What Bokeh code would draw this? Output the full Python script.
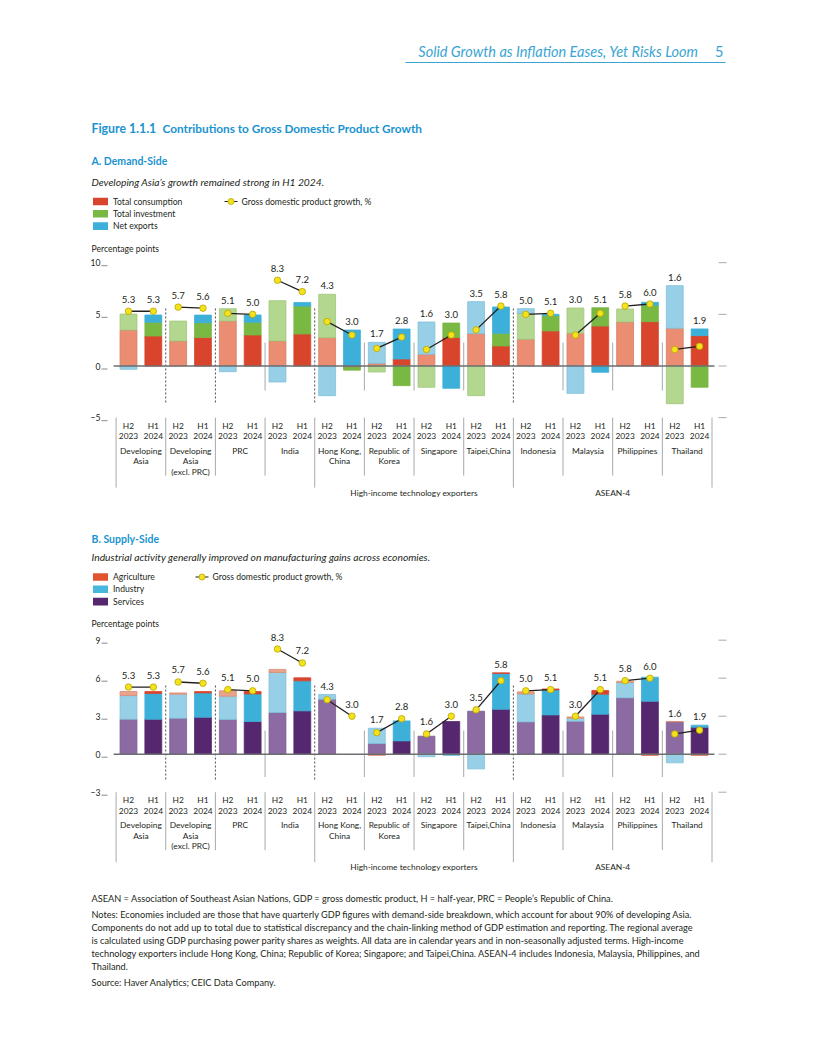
from bokeh.plotting import figure
from bokeh.models import Range1d, ColumnDataSource
from bokeh.layouts import column
from bokeh.embed import file_html
from bokeh.resources import INLINE
from bokeh.core.properties import value

# ---------------- data ----------------
countries = ["Developing\nAsia", "Developing\nAsia\n(excl. PRC)", "PRC", "India",
             "Hong Kong,\nChina", "Republic of\nKorea", "Singapore", "Taipei,China",
             "Indonesia", "Malaysia", "Philippines", "Thailand"]
periods = ["H2\n2023", "H1\n2024"]
gdp_h2 = [5.3, 5.7, 5.1, 8.3, 4.3, 1.7, 1.6, 3.5, 5.0, 3.0, 5.8, 1.6]
gdp_h1 = [5.3, 5.6, 5.0, 7.2, 3.0, 2.8, 3.0, 5.8, 5.1, 5.1, 6.0, 1.9]

# demand side, bar order: country k H2 2023, H1 2024
consumption = [3.48, 2.90, 2.42, 2.77, 4.35, 3.00, 2.42, 3.10, 2.74, -0.12, 0.26, 0.68,
               1.13, 2.77, 3.13, 1.94, 2.58, 3.39, 3.16, 3.87, 4.26, 4.29, 3.65, 2.94]
investment = [1.55, 1.33, 1.93, 1.42, 1.20, 1.23, 3.90, 2.70, 4.20, -0.28, -0.58, -1.90,
              -2.06, 1.39, -2.87, 1.22, 2.52, 1.48, 2.45, 1.77, 1.26, 1.58, -3.65, -2.06]
net_exports = [-0.32, 0.71, 0.00, 0.74, -0.55, 0.71, -1.55, 0.35, -2.87, 3.48, 2.03, 2.90,
               3.13, -2.16, 3.10, 2.55, 0.45, 0.13, -2.65, -0.61, 0.00, 0.29, 4.13, 0.65]

# supply side
services = [2.76, 2.76, 2.84, 2.92, 2.74, 2.58, 3.29, 3.42, 4.34, 0.00, 0.84, 1.05,
            1.42, 2.58, 3.39, 3.55, 2.55, 3.10, 2.60, 3.16, 4.45, 4.18, 2.55, 2.13]
industry = [1.87, 2.03, 1.90, 1.92, 1.84, 2.18, 3.16, 2.37, 0.37, 0.00, 1.21, 1.58,
            -0.20, -0.08, -1.16, 2.82, 2.21, 1.97, 0.24, 1.58, 1.21, 1.90, -0.68, 0.16]
agriculture = [0.32, 0.16, 0.10, 0.10, 0.42, 0.18, 0.24, 0.24, 0.00, 0.00, -0.10, 0.00,
               0.00, 0.00, 0.00, 0.05, 0.16, 0.08, 0.10, 0.29, 0.10, -0.08, 0.03, -0.08]

y_ticks_a = [-5, 0, 5, 10]
y_ticks_b = [-3, 0, 3, 6, 9]
groups = ["High-income technology exporters", "ASEAN-4"]
group_first = [4, 8]     # first country index of each group
group_last = [7, 11]
dashed_after = [0, 1, 3, 7]      # separators after these countries (dashed)
solid_after = [2, 4, 5, 6, 8, 9, 10]
long_bounds = [-1, 3, 7, 11]

# ---------------- style ----------------
FONT = "Lato"
INK = "#231f20"
TITLE_BLUE = "#1a93d1"
HEAD_BLUE = "#3aa5d2"
PAGE_W = 800
X0_PAGE = 128.0   # page x of first bar centre
STEP = 24.83      # px per bar

demand_cols = [("#d8452c", "#ea8d72", "#d97c62"),
               ("#78b843", "#b4d78f", "#9fc77a"),
               ("#3db0d9", "#97d0e6", "#80c0da")]
supply_cols = [("#55276e", "#8c6aa2", "#7b5a92"),
               ("#3db0d9", "#97d0e6", "#80c0da"),
               ("#d8452c", "#eaa38c", "#d98c74")]


def txt(p, x, y, s, size, color=INK, style="normal", align="left", font=FONT):
    p.text(x=[x], y=[y], text=[s], text_font=value(font), text_font_size=size,
           text_color=color, text_font_style=style, text_align=align,
           text_baseline="middle")


def base_fig(height, xr, yr):
    p = figure(width=PAGE_W, height=height, x_range=xr, y_range=yr,
               toolbar_location=None, output_backend="svg", min_border=0,
               x_axis_location=None, y_axis_location=None, outline_line_color=None,
               title=None)
    p.xgrid.visible = False
    p.ygrid.visible = False
    p.background_fill_color = "white"
    p.border_fill_color = "white"
    return p


def text_fig(top, bottom):
    return base_fig(bottom - top, Range1d(0, PAGE_W), Range1d(bottom, top))


def legend(p, y0, names, colors, gdp_x):
    for j, (n, c) in enumerate(zip(names, colors)):
        yy = y0 + j * 12.3
        p.quad(left=[92.5], right=[107.5], top=[yy - 3.8], bottom=[yy + 3.8],
               fill_color=c, line_color=None)
        txt(p, 112.5, yy, n, "8.6px")
    p.line([gdp_x, gdp_x + 13], [y0, y0], line_color=INK, line_width=1.1)
    p.scatter([gdp_x + 6.5], [y0], size=6, fill_color="#f4e31c", line_color="#b9a600",
              line_width=0.8)
    txt(p, gdp_x + 17, y0, "Gross domestic product growth, %", "8.6px")


def stack(series):
    n = len(series[0])
    pos = [0.0] * n
    neg = [0.0] * n
    out = []
    for s, vals in enumerate(series):
        for i, v in enumerate(vals):
            if v >= 0:
                b, t = pos[i], pos[i] + v
                pos[i] = t
            else:
                t, b = neg[i], neg[i] + v
                neg[i] = b
            out.append((i, b, t, s))
    return out, pos


def panel(top, bottom, zero_page, ppu, series, cols, ticks, sep_d, sep_s):
    def dy(py):
        return (zero_page - py) / ppu

    def dx(px):
        return (px - X0_PAGE) / STEP

    p = base_fig(bottom - top, Range1d(dx(0), dx(PAGE_W)), Range1d(dy(bottom), dy(top)))

    # y tick labels (left) and tick marks (left and right)
    for t in ticks:
        lab = "\u2212" + str(-t) if t < 0 else str(t)
        txt(p, dx(100), t, lab, "8.6px", align="right")
        p.line([dx(101), dx(107)], [t - 3 / ppu, t - 3 / ppu], line_color="#6d6e71",
               line_width=0.8)
        p.line([dx(718), dx(726)], [t, t], line_color="#a7a9ac", line_width=1)

    # separators inside plot
    for k in dashed_after:
        xb = 2 * k + 1.5
        p.line([xb, xb], [sep_d[0], sep_d[1]], line_color="#4d4d4f",
               line_dash="2 2", line_width=1)
    for k in solid_after:
        xb = 2 * k + 1.5
        p.line([xb, xb], [sep_s[0], sep_s[1]], line_color="#a7a9ac", line_width=1)

    rows, tops = stack(series)
    src = dict(x=[], b=[], t=[], fc=[], lc=[])
    for i, b, t, s in rows:
        if t == b:
            continue
        full, light, edge = cols[s]
        src["x"].append(i)
        src["b"].append(b)
        src["t"].append(t)
        src["fc"].append(light if i % 2 == 0 else full)
        src["lc"].append(edge if i % 2 == 0 else full)
    p.vbar(x="x", bottom="b", top="t", width=0.68, fill_color="fc", line_color="lc",
           line_width=0.8, source=ColumnDataSource(src))

    n = len(series[0])
    p.line([-0.6, n - 0.4], [0, 0], line_color="#6d6e71", line_width=1.4)

    # GDP growth lines and dots
    p.multi_line(xs=[[2 * k, 2 * k + 1] for k in range(len(gdp_h2))],
                 ys=[[a, b] for a, b in zip(gdp_h2, gdp_h1)], line_color=INK,
                 line_width=1.3)
    gx, gy = [], []
    for k in range(len(gdp_h2)):
        gx += [2 * k, 2 * k + 1]
        gy += [gdp_h2[k], gdp_h1[k]]
    p.scatter(gx, gy, size=6.5, fill_color="#f4e31c", line_color="#b9a600", line_width=0.8)
    ly = [max(tops[i], gy[i] + 3.5 / ppu) + 8.5 / ppu for i in range(len(gx))]
    p.text(x=gx, y=ly, text=["%.1f" % v for v in gy], text_font=value(FONT),
           text_font_size="9.6px", text_color=INK, text_align="center",
           text_baseline="middle")

    # category label area
    tb = zero_page - ticks[0] * ppu    # page y of lowest tick
    for kb in range(-1, len(countries)):
        xb = 2 * kb + 1.5
        end = tb + (70 if kb in long_bounds else 58)
        p.line([xb, xb], [dy(tb), dy(end)], line_color="#a7a9ac", line_width=1)
    for i in range(n):
        for j, line in enumerate(periods[i % 2].split("\n")):
            txt(p, i, dy(tb + 8 + 10.5 * j), line, "8.4px", align="center")
    for k, c in enumerate(countries):
        for j, line in enumerate(c.split("\n")):
            txt(p, 2 * k + 0.5, dy(tb + 33 + 10.5 * j), line, "8.4px", align="center")
    for g, f, l in zip(groups, group_first, group_last):
        txt(p, (2 * f - 0.5 + 2 * l + 1.5) / 2, dy(tb + 75), g, "8.4px", align="center")
    return p


# ---------------- page ----------------
top = text_fig(0, 256)
txt(top, 698, 51, "Solid Growth as Inflation Eases, Yet Risks Loom", "14.5px",
    color=HEAD_BLUE, style="italic", align="right")
txt(top, 723, 51, "5", "14.5px", color=HEAD_BLUE, align="right")
top.line([405, 725], [62, 62], line_color=HEAD_BLUE, line_width=1)
txt(top, 91, 128, "Figure 1.1.1", "12.3px", color=TITLE_BLUE, style="bold")
txt(top, 162, 128, "Contributions to Gross Domestic Product Growth", "11.8px",
    color=TITLE_BLUE, style="bold")
txt(top, 91, 160, "A.  Demand-Side", "10.5px", color=TITLE_BLUE, style="bold")
txt(top, 91, 181, "Developing Asia\u2019s growth remained strong in H1 2024.", "10.3px",
    style="italic")
legend(top, 201, ["Total consumption", "Total investment", "Net exports"],
       ["#d8452c", "#78b843", "#3db0d9"], 224)
txt(top, 91, 248.5, "Percentage points", "8.6px")

pa = panel(256, 506, 365.5, 10.33, [consumption, investment, net_exports], demand_cols,
           y_ticks_a, (5.57, -3.55), (2.27, -2.37))

mid = text_fig(506, 630)
txt(mid, 91, 538, "B.  Supply-Side", "10.5px", color=TITLE_BLUE, style="bold")
txt(mid, 91, 556.5, "Industrial activity generally improved on manufacturing gains across economies.",
    "10.3px", style="italic")
legend(mid, 576.5, ["Agriculture", "Industry", "Services"],
       ["#e0532e", "#48b7dc", "#55276e"], 195)
txt(mid, 91, 623.5, "Percentage points", "8.6px")

pb = panel(630, 880, 753.7, 12.67, [services, industry, agriculture], supply_cols,
           y_ticks_b, (5.42, -2.08), (1.87, -1.8))

bot = text_fig(880, 1056)
notes = [
    (898, "ASEAN = Association of Southeast Asian Nations, GDP = gross domestic product, H = half-year, PRC = People\u2019s Republic of China."),
    (914, "Notes: Economies included are those that have quarterly GDP figures with demand-side breakdown, which account for about 90% of developing Asia."),
    (927, "Components do not add up to total due to statistical discrepancy and the chain-linking method of GDP estimation and reporting. The regional average"),
    (940, "is calculated using GDP purchasing power parity shares as weights. All data are in calendar years and in non-seasonally adjusted terms. High-income"),
    (953, "technology exporters include Hong Kong, China; Republic of Korea; Singapore; and Taipei,China. ASEAN-4 includes Indonesia, Malaysia, Philippines, and"),
    (966, "Thailand."),
    (982, "Source: Haver Analytics; CEIC Data Company."),
]
for yy, s in notes:
    txt(bot, 91, yy, s, "9.2px")

layout = column(top, pa, mid, pb, bot, spacing=0)
open("out.html", "w").write(file_html(layout, INLINE))
